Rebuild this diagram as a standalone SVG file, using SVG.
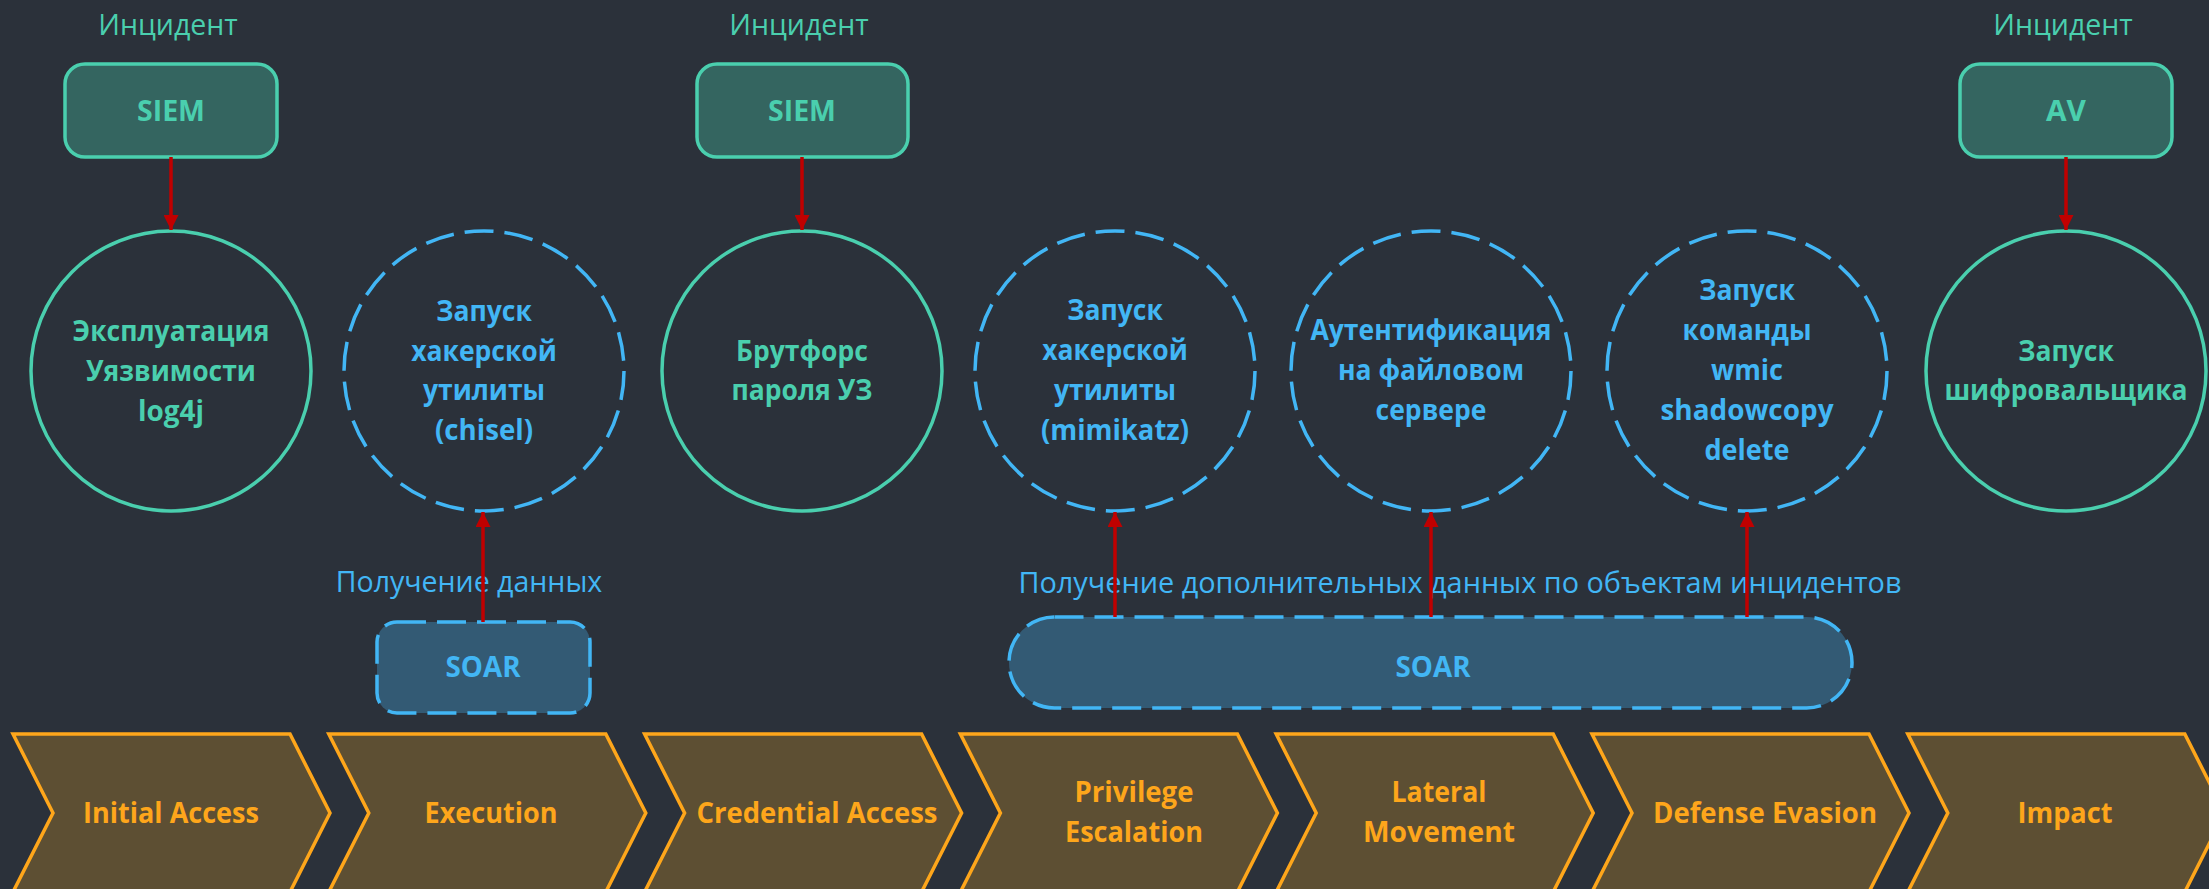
<svg xmlns="http://www.w3.org/2000/svg" width="2209" height="889" viewBox="0 0 2209 889">
  <style>
    text { font-family: "Open Sans", "Noto Sans", "DejaVu Sans", sans-serif; text-anchor: middle; }
    .reg { font-size: 28.5px; font-weight: 400; }
    .bold { font-size: 28.5px; font-weight: 700; }
    .narrow { transform-box: fill-box; transform-origin: center; transform: scaleX(0.93); }
    .teal { fill: #4acfae; }
    .blue { fill: #42b6f5; }
    .orange { fill: #fea61b; }
    .src { fill: #346560; stroke: #4acfae; stroke-width: 3.5; }
    .event { fill: none; stroke: #4acfae; stroke-width: 3.5; }
    .probe { fill: none; stroke: #42b6f5; stroke-width: 3.5; stroke-dasharray: 29 11; }
    .soar { fill: #335a74; stroke: #42b6f5; stroke-width: 3.5; stroke-dasharray: 29 11; }
    .tactic { fill: #5d4f33; stroke: #fea61b; stroke-width: 3.5; stroke-linejoin: miter; }
    .link { stroke: #c00000; stroke-width: 3.5; fill: none; marker-end: url(#head); }
  </style>
  <defs>
    <marker id="head" viewBox="0 0 16 15" refX="15" refY="7.5" markerWidth="16" markerHeight="15" markerUnits="userSpaceOnUse" orient="auto">
      <path d="M0,0 L15,7.5 L0,15 Z" fill="#c00000"/>
    </marker>
    <polygon id="chev" points="0,0 277,0 317,79 277,158 0,158 40,79"/>
  </defs>

  <rect width="2209" height="889" fill="#2b313a"/>

  <!-- ATT&CK tactics row -->
  <g id="tactic-initial-access">
    <use href="#chev" x="13" y="734" class="tactic"/>
    <text class="bold orange" x="171" y="823" textLength="176" lengthAdjust="spacingAndGlyphs">Initial Access</text>
  </g>
  <g id="tactic-execution">
    <use href="#chev" x="328.8" y="734" class="tactic"/>
    <text class="bold orange" x="491" y="823" textLength="133" lengthAdjust="spacingAndGlyphs">Execution</text>
  </g>
  <g id="tactic-credential-access">
    <use href="#chev" x="644.6" y="734" class="tactic"/>
    <text class="bold orange" x="817" y="823" textLength="241" lengthAdjust="spacingAndGlyphs">Credential Access</text>
  </g>
  <g id="tactic-privilege-escalation">
    <use href="#chev" x="960.4" y="734" class="tactic"/>
    <text class="bold orange" x="1134" y="802" textLength="119" lengthAdjust="spacingAndGlyphs">Privilege</text>
    <text class="bold orange" x="1134" y="842" textLength="138" lengthAdjust="spacingAndGlyphs">Escalation</text>
  </g>
  <g id="tactic-lateral-movement">
    <use href="#chev" x="1276.2" y="734" class="tactic"/>
    <text class="bold orange" x="1439" y="802" textLength="95" lengthAdjust="spacingAndGlyphs">Lateral</text>
    <text class="bold orange" x="1439" y="842" textLength="152" lengthAdjust="spacingAndGlyphs">Movement</text>
  </g>
  <g id="tactic-defense-evasion">
    <use href="#chev" x="1592" y="734" class="tactic"/>
    <text class="bold orange" x="1765" y="823" textLength="224" lengthAdjust="spacingAndGlyphs">Defense Evasion</text>
  </g>
  <g id="tactic-impact">
    <use href="#chev" x="1907.8" y="734" class="tactic"/>
    <text class="bold orange" x="2065" y="823" textLength="95" lengthAdjust="spacingAndGlyphs">Impact</text>
  </g>

  <!-- Alert sources -->
  <g id="siem-1">
    <text class="reg teal" x="168" y="35">Инцидент</text>
    <rect class="src" x="65" y="64" width="212" height="93" rx="20"/>
    <text class="bold teal" x="171" y="121" textLength="68" lengthAdjust="spacingAndGlyphs">SIEM</text>
  </g>
  <g id="siem-2">
    <text class="reg teal" x="799" y="35">Инцидент</text>
    <rect class="src" x="697" y="64" width="211" height="93" rx="20"/>
    <text class="bold teal" x="802" y="121" textLength="68" lengthAdjust="spacingAndGlyphs">SIEM</text>
  </g>
  <g id="av">
    <text class="reg teal" x="2063" y="35">Инцидент</text>
    <rect class="src" x="1960" y="64" width="212" height="93" rx="20"/>
    <text class="bold teal" x="2066" y="121" textLength="40" lengthAdjust="spacingAndGlyphs">AV</text>
  </g>

  <!-- Attack steps -->
  <g id="step-log4j">
    <circle class="event" cx="171" cy="371" r="140"/>
    <text class="bold teal narrow" x="171" y="341">Эксплуатация</text>
    <text class="bold teal narrow" x="171" y="381">Уязвимости</text>
    <text class="bold teal" x="171" y="421" textLength="66" lengthAdjust="spacingAndGlyphs">log4j</text>
  </g>
  <g id="step-chisel">
    <circle class="probe" cx="484" cy="371" r="140"/>
    <text class="bold blue narrow" x="484" y="321">Запуск</text>
    <text class="bold blue narrow" x="484" y="361">хакерской</text>
    <text class="bold blue narrow" x="484" y="400">утилиты</text>
    <text class="bold blue" x="484" y="440" textLength="98" lengthAdjust="spacingAndGlyphs">(chisel)</text>
  </g>
  <g id="step-bruteforce">
    <circle class="event" cx="802" cy="371" r="140"/>
    <text class="bold teal narrow" x="802" y="361">Брутфорс</text>
    <text class="bold teal narrow" x="802" y="400">пароля УЗ</text>
  </g>
  <g id="step-mimikatz">
    <circle class="probe" cx="1115" cy="371" r="140"/>
    <text class="bold blue narrow" x="1115" y="320">Запуск</text>
    <text class="bold blue narrow" x="1115" y="360">хакерской</text>
    <text class="bold blue narrow" x="1115" y="400">утилиты</text>
    <text class="bold blue" x="1115" y="440" textLength="148" lengthAdjust="spacingAndGlyphs">(mimikatz)</text>
  </g>
  <g id="step-fileserver-auth">
    <circle class="probe" cx="1431" cy="371" r="140"/>
    <text class="bold blue narrow" x="1431" y="340">Аутентификация</text>
    <text class="bold blue narrow" x="1431" y="380">на файловом</text>
    <text class="bold blue narrow" x="1431" y="420">сервере</text>
  </g>
  <g id="step-shadowcopy">
    <circle class="probe" cx="1747" cy="371" r="140"/>
    <text class="bold blue narrow" x="1747" y="300">Запуск</text>
    <text class="bold blue narrow" x="1747" y="340">команды</text>
    <text class="bold blue" x="1747" y="380" textLength="72" lengthAdjust="spacingAndGlyphs">wmic</text>
    <text class="bold blue" x="1747" y="420" textLength="173" lengthAdjust="spacingAndGlyphs">shadowcopy</text>
    <text class="bold blue" x="1747" y="460" textLength="85" lengthAdjust="spacingAndGlyphs">delete</text>
  </g>
  <g id="step-ransomware">
    <circle class="event" cx="2066" cy="371" r="140"/>
    <text class="bold teal narrow" x="2066" y="361">Запуск</text>
    <text class="bold teal narrow" x="2066" y="400">шифровальщика</text>
  </g>

  <!-- Enrichment -->
  <g id="soar-1">
    <text class="reg blue" x="469" y="592">Получение данных</text>
    <rect class="soar" x="377" y="622" width="213" height="91" rx="20"/>
    <text class="bold blue" x="483" y="677" textLength="75" lengthAdjust="spacingAndGlyphs">SOAR</text>
  </g>
  <g id="soar-2">
    <text class="reg blue" x="1460" y="593" textLength="883" lengthAdjust="spacingAndGlyphs">Получение дополнительных данных по объектам инцидентов</text>
    <rect class="soar" x="1009" y="617" width="843" height="91" rx="45.5"/>
    <text class="bold blue" x="1433" y="677" textLength="75" lengthAdjust="spacingAndGlyphs">SOAR</text>
  </g>

  <!-- Connectors -->
  <g id="connectors">
    <line class="link" x1="171" y1="157" x2="171" y2="230"/>
    <line class="link" x1="802" y1="157" x2="802" y2="230"/>
    <line class="link" x1="2066" y1="157" x2="2066" y2="230"/>
    <line class="link" x1="483" y1="622" x2="483" y2="512"/>
    <line class="link" x1="1115" y1="617" x2="1115" y2="512"/>
    <line class="link" x1="1431" y1="617" x2="1431" y2="512"/>
    <line class="link" x1="1747" y1="617" x2="1747" y2="512"/>
  </g>
</svg>
